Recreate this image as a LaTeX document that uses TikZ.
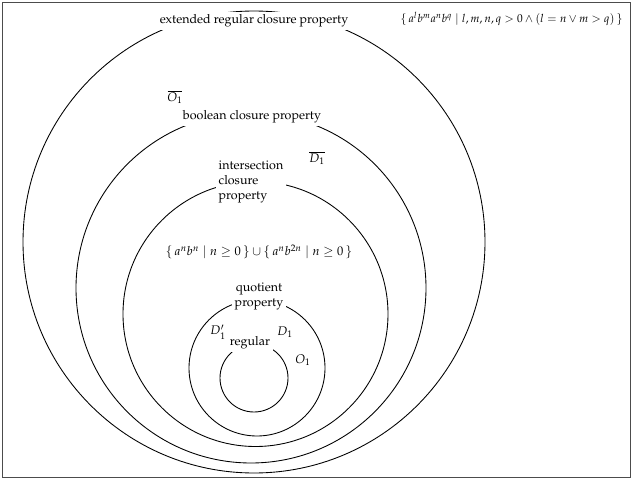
\documentclass[tikz,border=0pt]{standalone}
\usepackage[T1]{fontenc}
\usepackage{amsmath,amssymb}
\usepackage{mathpazo}
\usepackage{tikz}

\begin{document}
\begin{tikzpicture}[x=0.8pt, y=-0.8pt,
  region/.style={draw=black, circle, inner sep=0pt, line width=.7pt},
  tag/.style={fill=white, inner sep=2pt, align=center},
  sym/.style={inner sep=1pt}
]
\useasboundingbox (0,0) rectangle (631,479);
\draw[black!70, line width=.8pt] (2.5,2) rectangle (630,477);
% nested classes
\node[region, minimum size=369.6pt] (ext) at (254,242) {};
\node[region, minimum size=280pt] (bool) at (251,288) {};
\node[region, minimum size=212pt] (inter) at (255.5,314) {};
\node[region, minimum size=108.8pt] (quot) at (257,368) {};
\node[region, minimum size=54.4pt] (reg) at (254,378) {};
% class names
\node[tag] (extname) at (254,21) {extended regular closure property};
\node[tag] (boolname) at (252,117) {boolean closure property};
\node[tag, align=left] (intername) at (251,182) {intersection\\closure\\property};
\node[tag] (quotname) at (259,296) {quotient\\property};
\node[tag] (regname) at (250,343) {regular};
% witnesses
\node[sym, font=\fontsize{9.1pt}{11pt}\selectfont] (lang) at (511.5,19) {$\{\, a^l b^m a^n b^q \mid l,m,n,q > 0 \wedge (l = n \vee m > q) \,\}$};
\node[sym] (obar) at (175,97) {$\overline{O_1}$};
\node[sym] (dbar) at (317,158) {$\overline{D_1}$};
\node[sym] (anbn) at (259,252) {$\{\, a^n b^n \mid n \geq 0 \,\} \cup \{\, a^n b^{2n} \mid n \geq 0 \,\}$};
\node[sym] (dprime) at (218,332) {$D_1'$};
\node[sym] (d) at (285,332) {$D_1$};
\node[sym] (o) at (303,360) {$O_1$};
\end{tikzpicture}
\end{document}
